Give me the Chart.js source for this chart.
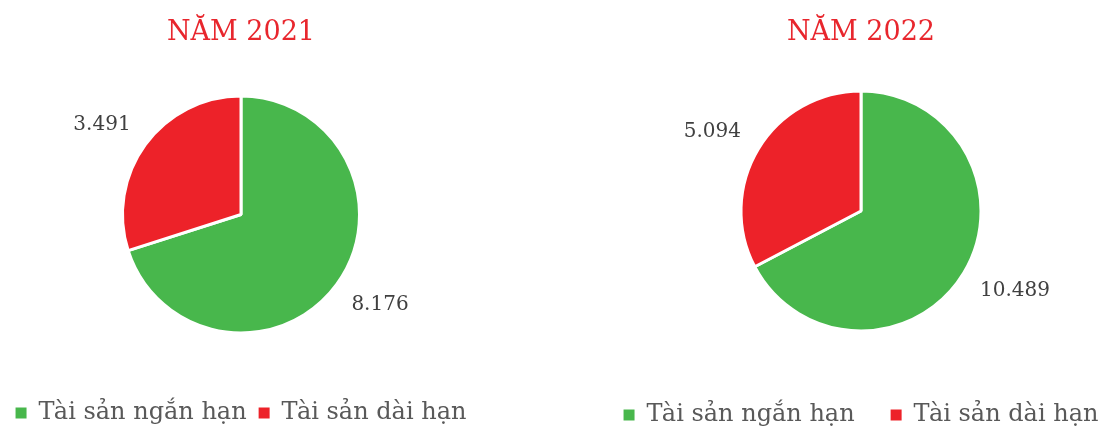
<!DOCTYPE html>
<html>
<head>
<meta charset="utf-8">
<title>Tài sản 2021 - 2022</title>
<script src="https://cdn.jsdelivr.net/npm/chart.js@4.4.0/dist/chart.umd.min.js"></script>
<style>
    html, body { margin: 0; padding: 0; background: #ffffff; overflow: hidden; width: 1116px; height: 430px; }
    #wrap1 { position: absolute; left: -20px; top: 0; }
    #wrap2 { position: absolute; left: 561px; top: 0; }
</style>
</head>
<body>
<div id="wrap1"><canvas id="chart1" width="560" height="435"></canvas></div>
<div id="wrap2"><canvas id="chart2" width="700" height="437"></canvas></div>
<script>
// data
var categories = ["Tài sản ngắn hạn", "Tài sản dài hạn"];
var years = ["NĂM 2021", "NĂM 2022"];
var values2021 = [8176, 3491];
var values2022 = [10489, 5094];

var green = "#48B74C";
var red = "#ED2229";
var titleRed = "#E8262D";
var fontFamily = "'DejaVu Serif', serif";

// vietnamese style number: 8176 -> 8.176
function formatNumber(n) {
    return n.toString().replace(/\B(?=(\d{3})+(?!\d))/g, ".");
}

// draws the value outside each slice, like excel "outside end" labels
var outsideLabels = {
    id: "outsideLabels",
    afterDatasetsDraw: function (chart) {
        var ctx = chart.ctx;
        var meta = chart.getDatasetMeta(0);
        var values = chart.data.datasets[0].data;
        ctx.save();
        ctx.font = "20px " + fontFamily;
        ctx.fillStyle = "#404040";
        ctx.textAlign = "center";
        ctx.textBaseline = "middle";
        meta.data.forEach(function (arc, i) {
            var p = arc.getProps(["x", "y", "startAngle", "endAngle", "outerRadius"], true);
            var mid = (p.startAngle + p.endAngle) / 2;
            var text = formatNumber(values[i]);
            var w = ctx.measureText(text).width;
            var h = 18;
            var r = p.outerRadius + 25;
            var x = p.x + Math.cos(mid) * r + Math.cos(mid) * w / 2;
            var y = p.y + Math.sin(mid) * r + Math.sin(mid) * h / 2;
            ctx.fillText(text, x, y);
        });
        ctx.restore();
    }
};

function legendLabels(chart) {
    //no white outline round the legend boxes
    var items = Chart.overrides.pie.plugins.legend.labels.generateLabels(chart);
    items.forEach(function (item) {
        item.lineWidth = 0;
        item.strokeStyle = "rgba(0,0,0,0)";
    });
    return items;
}

function drawPie(canvasId, title, values, radius, pad, titlePad, legendGap) {
    var ctx = document.getElementById(canvasId);
    return new Chart(ctx, {
        type: "pie",
        data: {
            labels: categories,
            datasets: [{
                data: values,
                backgroundColor: [green, red],
                borderColor: "#ffffff",
                borderWidth: 3,
                radius: radius
            }]
        },
        options: {
            responsive: false,
            animation: false,
            layout: { padding: pad },
            plugins: {
                title: {
                    display: true,
                    text: title,
                    color: titleRed,
                    font: { family: fontFamily, size: 27, weight: "normal", lineHeight: 0.5 },
                    padding: titlePad
                },
                legend: {
                    position: "bottom",
                    labels: {
                        boxWidth: 11,
                        boxHeight: 11,
                        padding: legendGap,
                        color: "#595959",
                        font: { family: fontFamily, size: 24 },
                        generateLabels: legendLabels
                    }
                },
                tooltip: { enabled: false }
            }
        },
        plugins: [outsideLabels]
    });
}

drawPie("chart1", years[0], values2021, 118.5,
    { left: 0, right: 38, top: 0, bottom: 0 }, { top: 26, bottom: 0.5 }, 12);
drawPie("chart2", years[1], values2022, 120,
    { left: 0, right: 100, top: 0, bottom: 0 }, { top: 26, bottom: 15.5 }, 36);
</script>
</body>
</html>
